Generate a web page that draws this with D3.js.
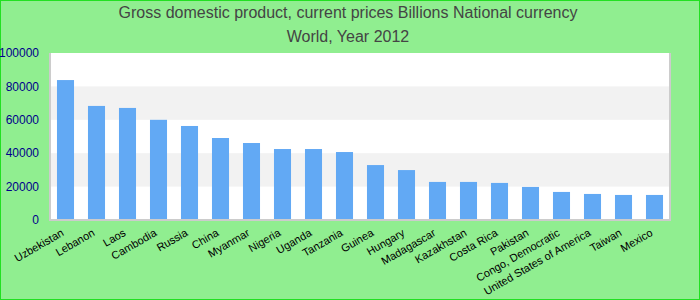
<!DOCTYPE html>
<html>
<head>
<meta charset="utf-8">
<script src="https://d3js.org/d3.v7.min.js"></script>
<style>
  body { margin: 0; }
  svg { display: block; font-family: "Liberation Sans", Arial, sans-serif; }
</style>
</head>
<body>
<div id="chart"></div>
<script>
// data
var countries = ["Uzbekistan", "Lebanon", "Laos", "Cambodia", "Russia", "China", "Myanmar",
  "Nigeria", "Uganda", "Tanzania", "Guinea", "Hungary", "Madagascar", "Kazakhstan",
  "Costa Rica", "Pakistan", "Congo, Democratic", "United States of America", "Taiwan", "Mexico"];
var gdp = [83800, 68300, 67100, 60000, 56300, 49100, 46100, 42500, 42500, 40700,
  32900, 29900, 22800, 22800, 22200, 19800, 16800, 15600, 15000, 15000];
var yTicks = [0, 20000, 40000, 60000, 80000, 100000];
var titleLines = ["Gross domestic product, current prices Billions National currency", "World, Year 2012"];

var width = 700, height = 300;
var margin = {top: 53, right: 30, bottom: 80, left: 50};

var svg = d3.select("#chart").append("svg")
    .attr("width", width)
    .attr("height", height);

// background + outer border
svg.append("rect")
    .attr("x", 0).attr("y", 0)
    .attr("width", width).attr("height", height)
    .attr("fill", "#90ee90")
    .attr("stroke", "#22e022")
    .attr("stroke-width", 2);

var x = d3.scaleBand()
    .domain(countries)
    .range([margin.left, width - margin.right])
    .paddingInner(0.45)
    .paddingOuter(0.225);

var y = d3.scaleLinear()
    .domain([0, 100000])
    .range([height - margin.bottom, margin.top]);

// plot area
svg.append("rect")
    .attr("x", margin.left).attr("y", margin.top)
    .attr("width", width - margin.left - margin.right)
    .attr("height", height - margin.top - margin.bottom)
    .attr("fill", "#fff");

// alternating bands
for (var i = 0; i < yTicks.length - 1; i++) {
  if (i % 2 == 1) {
    svg.append("rect")
        .attr("x", margin.left)
        .attr("y", y(yTicks[i + 1]))
        .attr("width", width - margin.left - margin.right)
        .attr("height", y(yTicks[i]) - y(yTicks[i + 1]))
        .attr("fill", "#f2f2f2");
  }
}

// bars
svg.append("g")
  .selectAll("rect")
  .data(countries)
  .enter()
  .append("rect")
    .attr("x", function(d) { return x(d); })
    .attr("y", function(d, i) { return y(gdp[i]); })
    .attr("width", x.bandwidth())
    .attr("height", function(d, i) { return y(0) - y(gdp[i]); })
    .attr("fill", "#62a9f4");

// plot frame (left, right, bottom)
var frame = svg.append("g").attr("stroke", "#cccccc").attr("stroke-width", 2).attr("fill", "none");
frame.append("path")
    .attr("d", "M" + margin.left + "," + margin.top +
               "V" + y(0) + "H" + (width - margin.right) + "V" + margin.top);

// y axis labels
svg.append("g")
  .selectAll("text")
  .data(yTicks)
  .enter()
  .append("text")
    .attr("x", margin.left - 11)
    .attr("y", function(d) { return y(d); })
    .attr("dy", "0.35em")
    .attr("text-anchor", "end")
    .attr("font-size", "12px")
    .attr("fill", "#00008b")
    .text(function(d) { return d; });

// x axis labels
svg.append("g")
  .selectAll("text")
  .data(countries)
  .enter()
  .append("text")
    .attr("transform", function(d) {
      return "translate(" + (x(d) + x.bandwidth() / 2 - 1) + "," + (y(0) + 15) + ") rotate(-30)";
    })
    .attr("text-anchor", "end")
    .attr("font-size", "11px")
    .attr("fill", "#000")
    .text(function(d) { return d; });

// title
svg.append("g")
  .selectAll("text")
  .data(titleLines)
  .enter()
  .append("text")
    .attr("x", 348)
    .attr("y", function(d, i) { return 18 + i * 24; })
    .attr("text-anchor", "middle")
    .attr("font-size", "16px")
    .attr("fill", "#444")
    .text(function(d) { return d; });
</script>
</body>
</html>
